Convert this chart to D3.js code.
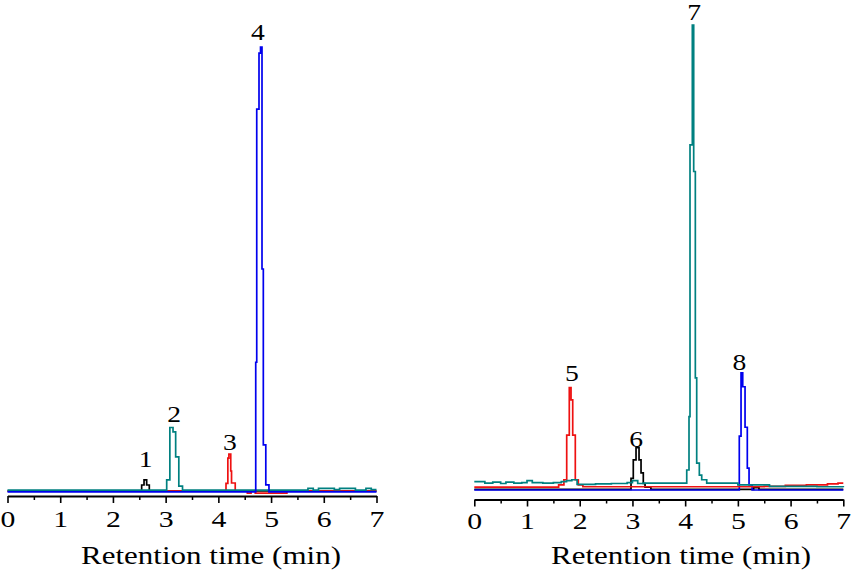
<!DOCTYPE html>
<html>
<head>
<meta charset="utf-8">
<script src="https://cdn.jsdelivr.net/npm/d3@7/dist/d3.min.js"></script>
<style>
  html, body { margin: 0; padding: 0; background: #fff; }
  svg { display: block; }
  svg text { font-family: "Liberation Serif", "Times New Roman", Tinos, Times, serif; }
</style>
</head>
<body>
<svg id="chart" width="851" height="576"></svg>
<script>
// ---------- DATA ----------
const timeTicks = [0, 1, 2, 3, 4, 5, 6, 7];
const minorTicks = [0.5, 1.5, 2.5, 3.5, 4.5, 5.5, 6.5];
const xTitle = "Retention time (min)";

// Left chromatogram traces: [time (min), relative intensity]
const leftBlack = [[0,0],[2.545,1.35],[2.59,2.5],[2.64,1.35],[2.69,0],[7,0]];
const leftRed = [[0,0],[4.145,1.7],[4.18,7.4],[4.20,8.3],[4.235,4.5],[4.25,1.8],[4.32,0],
                 [4.55,-0.5],[4.62,0],[4.7,-0.5],[5.3,0],[7,0]];
const leftTeal = [[0,0.2],[3.02,2.5],[3.08,14.3],[3.14,13.3],[3.19,7.7],[3.25,1.1],[3.32,0.2],
                  [5.7,0.6],[5.8,0.2],[5.9,0.6],[6.2,0.3],[6.3,0.6],[6.6,0.2],[6.8,0.6],[6.9,0.3],[7,0.3]];
const leftBlue = [[0,-0.2],[4.709,29],[4.728,86],[4.771,98.6],[4.80,100],[4.828,50],[4.853,10.4],
                  [4.90,1.4],[4.96,-0.2],[7,-0.2]];
const leftLabels = ["1", "2", "3", "4"];
const leftLabelT = [2.62, 3.16, 4.22, 4.75];
const leftLabelV = [5.4, 15.5, 9.2, 101.6];

// Right chromatogram traces
const rightBlack = [[0,0.15],[2.973,2.5],[3.016,6.5],[3.068,9.1],[3.125,6.5],[3.163,3.7],[3.206,1.4],
                    [3.239,0.6],[3.35,0.15],[5.3,0.5],[5.4,0.15],[7,0.15]];
const rightRed = [[0,0.6],[1.60,1.1],[1.70,2.2],[1.753,11.8],[1.802,22.0],[1.835,19.4],[1.867,11.8],
                  [1.916,2.2],[1.973,1.1],[2.06,0.7],[5.5,0.8],[5.9,1.0],[6.3,1.1],[6.7,1.3],[6.9,1.5],[7,1.5]];
const rightTeal = [[0,1.8],[0.2,1.5],[0.35,1.7],[0.5,1.4],[0.6,1.7],[0.75,1.5],[0.9,1.6],[1.0,2.0],
                   [1.1,1.6],[1.3,1.5],[1.5,1.6],[1.65,1.8],[1.75,2.0],[1.85,2.2],[1.95,1.2],[2.3,1.3],
                   [2.6,1.4],[2.9,1.6],[3.0,2.0],[3.1,1.4],[3.2,1.5],[4.03,4.3],[4.073,15.8],[4.092,74.2],
                   [4.136,100],[4.162,68.5],[4.193,24.1],[4.219,5.8],[4.269,3.2],[4.314,2.2],[4.409,1.5],
                   [5.0,1.1],[5.6,0.8],[6.5,0.7],[7,0.6]];
const rightBlue = [[0,0],[5.027,11.6],[5.06,25.2],[5.092,22.2],[5.136,13.5],[5.179,4.7],[5.212,1.1],
                   [5.27,0],[7,0]];
const rightLabels = ["5", "6", "7", "8"];
const rightLabelT = [1.85, 3.07, 4.17, 5.03];
const rightLabelV = [23.4, 9.2, 101.0, 25.8];

// ---------- DRAW ----------
const svg = d3.select("#chart");
const SX = 1.24; // horizontal stretch seen in the reference text

const colors = { black: "#000000", red: "#ee1111", teal: "#008080", blue: "#0000ee" };

const panels = [
  { xr: [7.5, 376.5], yr: [491, 47], axisY: 496, labelY: 527, titleX: 211,
    traces: [[leftBlack, colors.black], [leftRed, colors.red], [leftTeal, colors.teal], [leftBlue, colors.blue]],
    labels: leftLabels, labelT: leftLabelT, labelV: leftLabelV },
  { xr: [474.3, 843.3], yr: [490, 25], axisY: 499.5, labelY: 529, titleX: 681,
    traces: [[rightBlack, colors.black], [rightBlue, colors.blue], [rightRed, colors.red], [rightTeal, colors.teal]],
    labels: rightLabels, labelT: rightLabelT, labelV: rightLabelV }
];

panels.forEach(p => {
  const x = d3.scaleLinear().domain([0, 7]).range(p.xr);
  const y = d3.scaleLinear().domain([0, 100]).range(p.yr);
  const g = svg.append("g");

  const line = d3.line().x(d => x(d[0])).y(d => y(d[1])).curve(d3.curveStepAfter);
  p.traces.forEach(([data, col]) => {
    g.append("path").datum(data)
      .attr("d", line)
      .attr("fill", "none")
      .attr("stroke", col)
      .attr("stroke-width", 1.7);
  });

  // minor ticks
  const minorAxis = d3.axisBottom(x).tickValues(minorTicks).tickSize(4).tickSizeOuter(0).tickFormat("");
  const ma = g.append("g").attr("transform", `translate(0,${p.axisY})`).call(minorAxis);
  ma.select(".domain").remove();
  ma.selectAll(".tick line").attr("stroke", "#000").attr("stroke-width", 1.5);

  // major axis
  const axis = d3.axisBottom(x).tickValues(timeTicks).tickSize(7).tickSizeOuter(0).tickFormat(d3.format("d"));
  const ax = g.append("g").attr("transform", `translate(0,${p.axisY})`).call(axis);
  ax.attr("font-family", null);
  ax.select(".domain").attr("stroke", "#000").attr("stroke-width", 1.8);
  ax.selectAll(".tick line").attr("stroke", "#000").attr("stroke-width", 1.6);
  ax.selectAll(".tick text")
    .attr("y", p.labelY - p.axisY).attr("dy", 0)
    .attr("transform", `scale(${SX},1)`)
    .style("font-size", "24px").attr("fill", "#000");

  // title
  g.append("text")
    .attr("transform", `translate(${p.titleX},564) scale(${SX},1)`)
    .attr("text-anchor", "middle")
    .style("font-size", "25px").attr("fill", "#000")
    .text(xTitle);

  // peak labels
  p.labels.forEach((lab, i) => {
    g.append("text")
      .attr("transform", `translate(${x(p.labelT[i])},${y(p.labelV[i])}) scale(1.2,1)`)
      .attr("text-anchor", "middle")
      .style("font-size", "23px").attr("fill", "#000")
      .text(lab);
  });
});
</script>
</body>
</html>
